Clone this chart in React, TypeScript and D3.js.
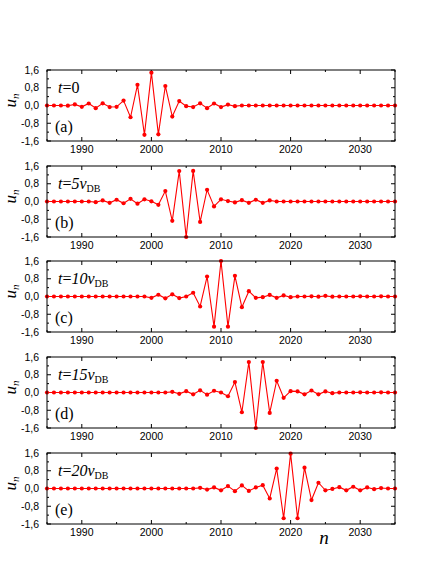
import React from 'react'
import * as d3 from 'd3'

// site index n
const sites = d3.range(1985, 2036)

// displacement u_n for each time moment (one value per site)
const panelA = [
  0, 0, 0, -0.01, 0.05, -0.06, 0.09, -0.12, 0.1, -0.07,
  -0.06, 0.22, -0.53, 0.93, -1.32, 1.48, -1.3, 0.88, -0.5, 0.2,
  -0.03, -0.07, 0.1, -0.12, 0.09, -0.07, 0.04, -0.03, 0, 0,
  0, 0, 0, 0, 0, 0, 0, 0, 0, 0,
  0, 0, 0, 0, 0, 0, 0, 0, 0, 0, 0,
]
const panelB = [
  0, 0, 0, 0, 0, 0, 0, -0.03, 0.05, -0.06,
  0.08, -0.08, 0.12, -0.1, 0.1, 0.01, -0.15, 0.47, -0.87, 1.37,
  -1.6, 1.38, -0.92, 0.53, -0.22, 0.1, 0.02, -0.04, 0.06, -0.06,
  0.08, -0.06, 0.05, 0, 0, 0, 0, 0, 0, 0,
  0, 0, 0, 0, 0, 0, 0, 0, 0, 0, 0,
]
const panelC = [
  0, 0, 0, 0, 0, 0, 0, 0, 0, 0,
  0, 0, 0, 0, 0, -0.06, 0.08, -0.08, 0.1, -0.07,
  0, 0.17, -0.45, 0.9, -1.36, 1.6, -1.36, 0.93, -0.48, 0.24,
  -0.06, -0.03, 0.07, -0.06, 0.05, -0.03, 0, 0, 0.01, -0.01,
  0.03, -0.01, 0, 0, 0, 0.01, 0, 0, 0.01, 0, 0,
]
const panelD = [
  0, 0, 0, 0, 0, 0, 0, 0, 0, 0,
  0, 0, 0, 0, 0, 0, 0, 0, 0.03, -0.06,
  0.06, -0.08, 0.1, -0.1, 0.08, 0, -0.17, 0.47, -0.89, 1.37,
  -1.6, 1.37, -0.92, 0.53, -0.24, 0.06, 0.05, -0.08, 0.09, -0.08,
  0.05, -0.03, 0, 0, 0, 0.01, 0, 0, 0.01, 0, 0,
]
const panelE = [
  0, 0, 0, 0, 0, 0, 0, 0, 0, 0,
  0, 0, 0, 0, 0, 0, 0, 0, 0, 0,
  0, 0, 0.03, -0.05, 0.05, -0.08, 0.11, -0.12, 0.14, -0.11,
  0.05, 0.15, -0.45, 0.9, -1.34, 1.57, -1.34, 0.94, -0.52, 0.26,
  -0.08, -0.02, 0.06, -0.08, 0.08, -0.08, 0.05, -0.03, 0.02, 0, 0,
]

const panelLetters = ['(a)', '(b)', '(c)', '(d)', '(e)']
const timeLabels = ['0', '5', '10', '15', '20']
const xTickLabels = [1990, 2000, 2010, 2020, 2030]
const yTickLabels = [-1.6, -0.8, 0, 0.8, 1.6]

const W = 436
const H = 564
const left = 47
const right = 395
const panelH = 71
const tops = [70, 166, 261, 357, 453]
const red = '#ff0000'
const sans = '"Liberation Sans", Arial, sans-serif'
const serif = '"Liberation Serif", "Times New Roman", serif'

const fmt = (v: number) => (v === 0 ? '0,0' : d3.format('.1f')(v).replace('.', ',').replace('−', '-'))

function Panel({ top, values, idx }: { top: number; values: number[]; idx: number }) {
  const x = d3.scaleLinear().domain([1985, 2035]).range([left, right])
  const y = d3.scaleLinear().domain([-1.6, 1.6]).range([top + panelH, top])
  const line = d3.line<number>().x((_, i) => x(sites[i])).y(d => y(d))
  const bottom = top + panelH
  const xMinor = d3.range(1985, 2036, 5)
  const yMinor = d3.range(-1.6, 1.601, 0.4)
  const t = timeLabels[idx]

  return (
    <g>
      {/* ticks, pointing inwards */}
      {xMinor.map(v => {
        const len = v % 10 === 0 ? 4 : 2
        return (
          <g key={'x' + v} stroke="#000" strokeWidth={1}>
            <line x1={x(v)} x2={x(v)} y1={bottom} y2={bottom - len} />
            <line x1={x(v)} x2={x(v)} y1={top} y2={top + len} />
          </g>
        )
      })}
      {yMinor.map((v, i) => {
        const len = i % 2 === 0 ? 4 : 2
        return (
          <g key={'y' + i} stroke="#000" strokeWidth={1}>
            <line x1={left} x2={left + len} y1={y(v)} y2={y(v)} />
            <line x1={right} x2={right - len} y1={y(v)} y2={y(v)} />
          </g>
        )
      })}
      {xTickLabels.map(v => (
        <text key={'xl' + v} x={x(v)} y={bottom + 12} textAnchor="middle" fontFamily={sans} fontSize={10.5}>
          {v}
        </text>
      ))}
      {yTickLabels.map(v => (
        <text key={'yl' + v} x={39} y={y(v)} dy="0.35em" textAnchor="end" fontFamily={sans} fontSize={10.5}>
          {fmt(v)}
        </text>
      ))}

      <path d={line(values) || ''} fill="none" stroke={red} strokeWidth={1.1} />
      {values.map((d, i) => (
        <circle key={i} cx={x(sites[i])} cy={y(d)} r={2.1} fill={red} />
      ))}

      <rect x={left} y={top} width={right - left} height={panelH} fill="none" stroke="#000" strokeWidth={1} />

      {/* annotations */}
      <text x={58} y={top + 23} fontFamily={serif} fontSize={16}>
        <tspan fontStyle="italic">t</tspan>
        <tspan>=</tspan>
        {t === '0' ? (
          <tspan>0</tspan>
        ) : (
          <>
            <tspan fontStyle="italic">{t}v</tspan>
            <tspan fontSize={10} dy={3}>DB</tspan>
          </>
        )}
      </text>
      <text x={55} y={top + 62} fontFamily={serif} fontSize={16}>
        {panelLetters[idx]}
      </text>

      <text transform={`translate(16,${top + panelH / 2 - 5}) rotate(-90)`} textAnchor="middle" fontFamily={serif} fontSize={17} fontStyle="italic">
        u<tspan fontSize={11} dy={3}>n</tspan>
      </text>
    </g>
  )
}

export default function App() {
  const panels = [panelA, panelB, panelC, panelD, panelE]
  return (
    <svg width={W} height={H} style={{ position: 'absolute', left: 0, top: 0, background: '#fff' }}>
      {panels.map((p, i) => (
        <Panel key={i} top={tops[i]} values={p} idx={i} />
      ))}
      <text x={324} y={544} textAnchor="middle" fontFamily={serif} fontSize={19} fontStyle="italic">
        n
      </text>
    </svg>
  )
}
